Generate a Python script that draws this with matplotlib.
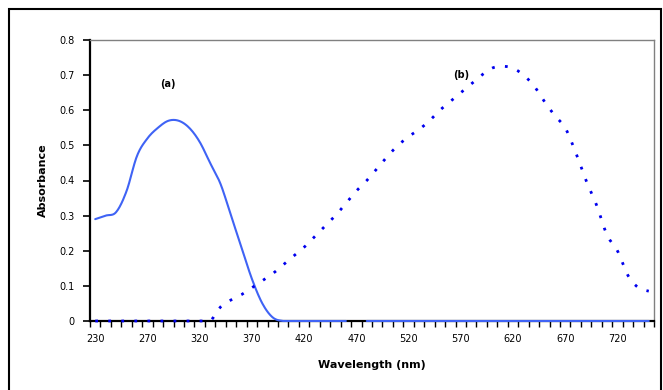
import matplotlib
matplotlib.use("Agg")
import matplotlib.pyplot as plt
import numpy as np
from matplotlib.patches import Rectangle
from matplotlib.ticker import FixedLocator

plt.rcParams['font.family'] = ['DejaVu Sans']

# category labels (every 5th category shown)
tick_labels = ["230", "270", "320", "370", "420", "470", "520", "570", "620", "670", "720"]
n_categories = 54

# series (a): solid line
series_a = [0.29, 0.30, 0.31, 0.37, 0.47, 0.52, 0.55, 0.57, 0.57, 0.55,
            0.51, 0.45, 0.39, 0.30, 0.21, 0.12, 0.05, 0.01, 0.0, 0.0,
            0.0, 0.0, 0.0, 0.0, 0.0, np.nan, 0.0, 0.0, 0.0, 0.0,
            0.0, 0.0, 0.0, 0.0, 0.0, 0.0, 0.0, 0.0, 0.0, 0.0,
            0.0, 0.0, 0.0, 0.0, 0.0, 0.0, 0.0, 0.0, 0.0, 0.0,
            0.0, 0.0, 0.0, 0.0]

# series (b): dotted line
series_b = [0.0, 0.0, 0.0, 0.0, 0.0, 0.0, 0.0, 0.0, 0.0, 0.0,
            0.0, 0.0, 0.04, 0.06, 0.075, 0.095, 0.115, 0.135, 0.16, 0.185,
            0.21, 0.24, 0.27, 0.30, 0.335, 0.37, 0.40, 0.435, 0.47, 0.50,
            0.525, 0.545, 0.57, 0.60, 0.625, 0.65, 0.675, 0.70, 0.72, 0.725,
            0.72, 0.70, 0.67, 0.625, 0.585, 0.55, 0.48, 0.40, 0.33, 0.245,
            0.20, 0.13, 0.095, 0.085]


def smooth(xs, ys, steps=12):
    """Catmull-Rom rendering of a line (like a spreadsheet 'smoothed line');
    NaN values break the line."""
    xs = np.asarray(xs, float)
    ys = np.asarray(ys, float)
    out_x, out_y = [], []
    segs, cur = [], []
    for xi, yi in zip(xs, ys):
        if np.isnan(yi):
            if cur:
                segs.append(cur)
            cur = []
        else:
            cur.append((xi, yi))
    if cur:
        segs.append(cur)
    for seg in segs:
        p = np.array(seg)
        if len(p) < 3:
            out_x += list(p[:, 0]) + [np.nan]
            out_y += list(p[:, 1]) + [np.nan]
            continue
        ext = np.vstack([p[0], p, p[-1]])
        for i in range(1, len(ext) - 2):
            p0, p1, p2, p3 = ext[i - 1], ext[i], ext[i + 1], ext[i + 2]
            t = np.linspace(0, 1, steps, endpoint=False)[:, None]
            c = 0.5 * ((2 * p1) + (-p0 + p2) * t + (2 * p0 - 5 * p1 + 4 * p2 - p3) * t ** 2
                       + (-p0 + 3 * p1 - 3 * p2 + p3) * t ** 3)
            out_x += list(c[:, 0])
            out_y += list(c[:, 1])
        out_x += [p[-1, 0], np.nan]
        out_y += [p[-1, 1], np.nan]
    return np.array(out_x), np.array(out_y)


W, H = 663, 390
fig = plt.figure(figsize=(W / 100, H / 100), dpi=100)
fig.patch.set_facecolor("white")

# outer frame
fig.patches.append(Rectangle((9 / W, -0.05), (661 - 9) / W, 1 - 9 / H + 0.05,
                             transform=fig.transFigure, fill=False,
                             edgecolor="black", linewidth=1.5))

ax = fig.add_axes([90 / W, 1 - 321 / H, (654 - 90) / W, (321 - 40) / H])

x = np.arange(n_categories)
sx, sy = smooth(x, series_a)
ax.plot(sx, np.maximum(sy, 0), color="#3f63f5", linewidth=1.5, solid_capstyle="round",
        clip_on=False, zorder=4)
bx, by = smooth(x, series_b)
ax.plot(bx, np.maximum(by, 0), color="#0000ee", linewidth=2.0, linestyle=(0, (1, 3.7)),
        clip_on=False, zorder=5)

ax.set_xlim(-0.5, n_categories - 0.5)
ax.set_ylim(0, 0.8)

# x axis: labels at every 5th category, tick marks between categories
ax.set_xticks(np.arange(0, len(tick_labels) * 5, 5))
ax.set_xticklabels(tick_labels, fontsize=7)
ax.xaxis.set_minor_locator(FixedLocator(np.arange(-0.5, n_categories, 1.0)))
ax.tick_params(axis="x", which="major", length=0, pad=9)
ax.tick_params(axis="x", which="minor", length=4, width=1, direction="out", color="black")

yt = [0, 0.1, 0.2, 0.3, 0.4, 0.5, 0.6, 0.7, 0.8]
ax.set_yticks(yt)
ax.set_yticklabels(["0", "0.1", "0.2", "0.3", "0.4", "0.5", "0.6", "0.7", "0.8"], fontsize=7)
ax.tick_params(axis="y", length=5, width=1.2, direction="out", color="black", pad=6)

for s in ["top", "right"]:
    ax.spines[s].set_color("#808080")
    ax.spines[s].set_linewidth(1.0)
for s in ["left", "bottom"]:
    ax.spines[s].set_color("black")
    ax.spines[s].set_linewidth(1.6)

ax.set_xlabel("Wavelength (nm)", fontsize=8, fontweight="bold", labelpad=12)
ax.set_ylabel("Absorbance", fontsize=8, fontweight="bold", labelpad=8)

ax.text(7, 0.675, "(a)", fontsize=7, fontweight="bold", ha="center", va="center")
ax.text(35, 0.70, "(b)", fontsize=7, fontweight="bold", ha="center", va="center")

fig.savefig("out.png", dpi=100)
